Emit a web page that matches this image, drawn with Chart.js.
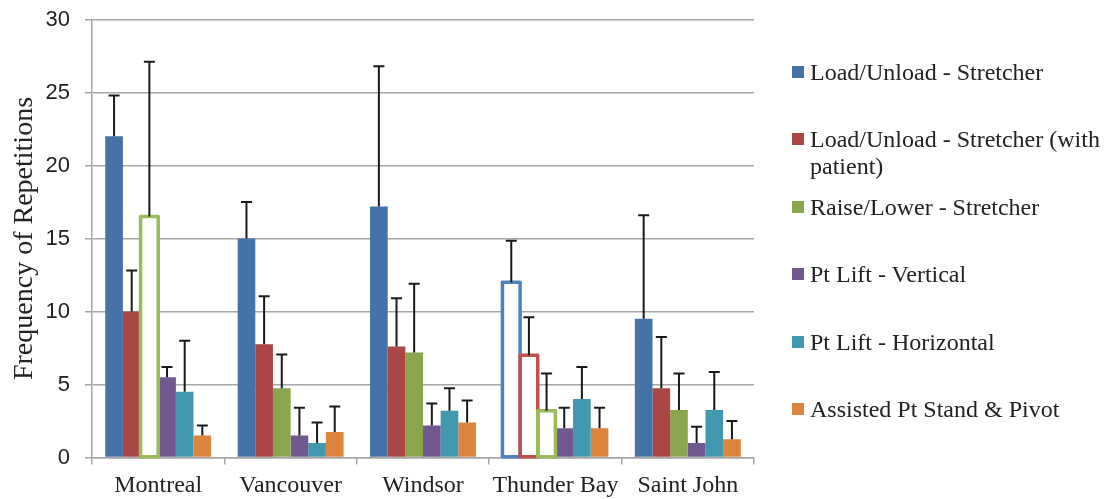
<!DOCTYPE html>
<html>
<head>
<meta charset="utf-8">
<script src="https://cdn.jsdelivr.net/npm/chart.js@4.4.0/dist/chart.umd.min.js"></script>
<style>
  html, body { margin: 0; padding: 0; background: #fff; }
  #wrap { position: relative; width: 1106px; height: 499px; }
  #legend { position: absolute; left: 792px; top: 0; font-family: "Liberation Serif", "Times New Roman", serif; font-size: 24px; color: #222; }
  .item { position: absolute; left: 0; width: 320px; line-height: 26.5px; }
  .item .box { position: absolute; left: 0; top: 7px; width: 12px; height: 12px; }
  .item .txt { margin-left: 18px; white-space: nowrap; }
</style>
</head>
<body>
<div id="wrap">
  <canvas id="chart"></canvas>
  <div id="legend"></div>
</div>
<script>
// ---- data ----
const categories = ['Montreal', 'Vancouver', 'Windsor', 'Thunder Bay', 'Saint John'];
const seriesNames = [
  'Load/Unload - Stretcher',
  'Load/Unload - Stretcher (with patient)',
  'Raise/Lower - Stretcher',
  'Pt Lift - Vertical',
  'Pt Lift - Horizontal',
  'Assisted Pt Stand & Pivot'
];
const loadUnload        = [22.0, 15.0, 17.2, 12.0, 9.5];
const loadUnloadPatient = [10.0, 7.75, 7.6, 7.0, 4.75];
const raiseLower        = [16.5, 4.75, 7.2, 3.2, 3.25];
const ptVertical        = [5.5, 1.5, 2.2, 2.0, 1.0];
const ptHorizontal      = [4.5, 1.0, 3.2, 4.0, 3.25];
const assistedPivot     = [1.5, 1.75, 2.4, 2.0, 1.25];

// top of each error bar (mean + sd)
const loadUnloadErr        = [24.8, 17.5, 26.8, 14.85, 16.6];
const loadUnloadPatientErr = [12.8, 11.05, 10.9, 9.6, 8.25];
const raiseLowerErr        = [27.1, 7.05, 11.9, 5.75, 5.75];
const ptVerticalErr        = [6.2, 3.4, 3.7, 3.4, 2.1];
const ptHorizontalErr      = [8.0, 2.4, 4.75, 6.2, 5.85];
const assistedPivotErr     = [2.2, 3.5, 3.9, 3.4, 2.5];

const yTicks = [0, 5, 10, 15, 20, 25, 30];

// [series, category] drawn as outline only
const hollowBars = [[2, 0], [0, 3], [1, 3], [2, 3]];

const fillColors = ['#4572A7', '#AA4643', '#89A54E', '#71588F', '#4198AF', '#DB843D'];
const outlineColors = ['#4F81BD', '#C0504D', '#9BBB59', '#8064A2', '#4BACC6', '#F79646'];

const values = [loadUnload, loadUnloadPatient, raiseLower, ptVertical, ptHorizontal, assistedPivot];
const errTops = [loadUnloadErr, loadUnloadPatientErr, raiseLowerErr, ptVerticalErr, ptHorizontalErr, assistedPivotErr];

const isHollow = (s, c) => hollowBars.some(h => h[0] === s && h[1] === c);

const datasets = values.map((v, s) => ({
  label: seriesNames[s],
  data: v,
  backgroundColor: (ctx) => isHollow(s, ctx.dataIndex) ? '#ffffff' : fillColors[s],
  borderWidth: 0,
  categoryPercentage: 0.8,
  barPercentage: 1.0,
}));

// outline for hollow bars, stroke centred on the bar edge
const hollowPlugin = {
  id: 'hollow',
  afterDatasetsDraw(chart) {
    const ctx = chart.ctx;
    ctx.save();
    hollowBars.forEach(([s, c]) => {
      const el = chart.getDatasetMeta(s).data[c];
      const p = el.getProps(['x', 'y', 'base', 'width'], true);
      ctx.strokeStyle = outlineColors[s];
      ctx.lineWidth = 3.5;
      ctx.lineJoin = 'round';
      ctx.strokeRect(p.x - p.width / 2, p.y, p.width, p.base - p.y);
    });
    ctx.restore();
  }
};

// upper error bars only
const errorBarPlugin = {
  id: 'errorBars',
  afterDatasetsDraw(chart) {
    const ctx = chart.ctx;
    const yScale = chart.scales.y;
    ctx.save();
    ctx.strokeStyle = '#1a1a1a';
    ctx.lineWidth = 2;
    errTops.forEach((tops, s) => {
      const meta = chart.getDatasetMeta(s);
      meta.data.forEach((el, i) => {
        const p = el.getProps(['x', 'y'], true);
        const yTop = yScale.getPixelForValue(tops[i]);
        const half = 5.5;
        ctx.beginPath();
        ctx.moveTo(p.x, p.y);
        ctx.lineTo(p.x, yTop);
        ctx.moveTo(p.x - half, yTop);
        ctx.lineTo(p.x + half, yTop);
        ctx.stroke();
      });
    });
    ctx.restore();
  }
};

const gridColor = '#a6a6a6';

const chart = new Chart(document.getElementById('chart'), {
  type: 'bar',
  data: { labels: categories, datasets },
  options: {
    responsive: true,
    maintainAspectRatio: false,
    animation: false,
    layout: { padding: { top: 19.5, right: 352, left: 0, bottom: 0 } },
    plugins: {
      legend: { display: false },
      tooltip: { enabled: false }
    },
    scales: {
      x: {
        grid: { display: true, drawOnChartArea: false, drawTicks: true, tickLength: 7, color: gridColor, lineWidth: 1.5, offset: true },
        border: { display: true, color: gridColor, width: 1.5 },
        ticks: { color: '#222', padding: 7, font: { family: '"Liberation Serif", "Times New Roman", serif', size: 24 } },
        afterFit: (scale) => { scale.height = 41.5; }
      },
      y: {
        min: 0,
        max: 30,
        afterBuildTicks: (scale) => { scale.ticks = yTicks.map(v => ({ value: v })); },
        grid: { color: gridColor, lineWidth: 1.5, tickLength: 7 },
        border: { display: true, color: gridColor, width: 1.5 },
        ticks: { color: '#222', padding: 15, font: { family: '"Liberation Sans", Arial, sans-serif', size: 22 } },
        title: {
          display: true,
          text: 'Frequency of Repetitions',
          color: '#222',
          padding: { top: 8, bottom: 0 },
          font: { family: '"Liberation Serif", "Times New Roman", serif', size: 28, weight: 'normal' }
        },
        afterFit: (scale) => {
          scale.width = 92;
          scale.paddingTop = 0;
          scale.paddingBottom = 0;
        }
      }
    }
  },
  plugins: [hollowPlugin, errorBarPlugin]
});

// ---- legend (html) ----
const legendEl = document.getElementById('legend');
const legendWrap = { 1: ['Load/Unload - Stretcher (with', 'patient)'] };
seriesNames.forEach((name, s) => {
  const item = document.createElement('div');
  item.className = 'item';
  item.style.top = (72 - 13 + s * 67.4) + 'px';
  const box = document.createElement('span');
  box.className = 'box';
  box.style.background = fillColors[s];
  const txt = document.createElement('div');
  txt.className = 'txt';
  const lines = legendWrap[s] || [name];
  txt.innerHTML = lines.map(l => l.replace('&', '&amp;')).join('<br>');
  item.appendChild(box);
  item.appendChild(txt);
  legendEl.appendChild(item);
});
</script>
</body>
</html>
